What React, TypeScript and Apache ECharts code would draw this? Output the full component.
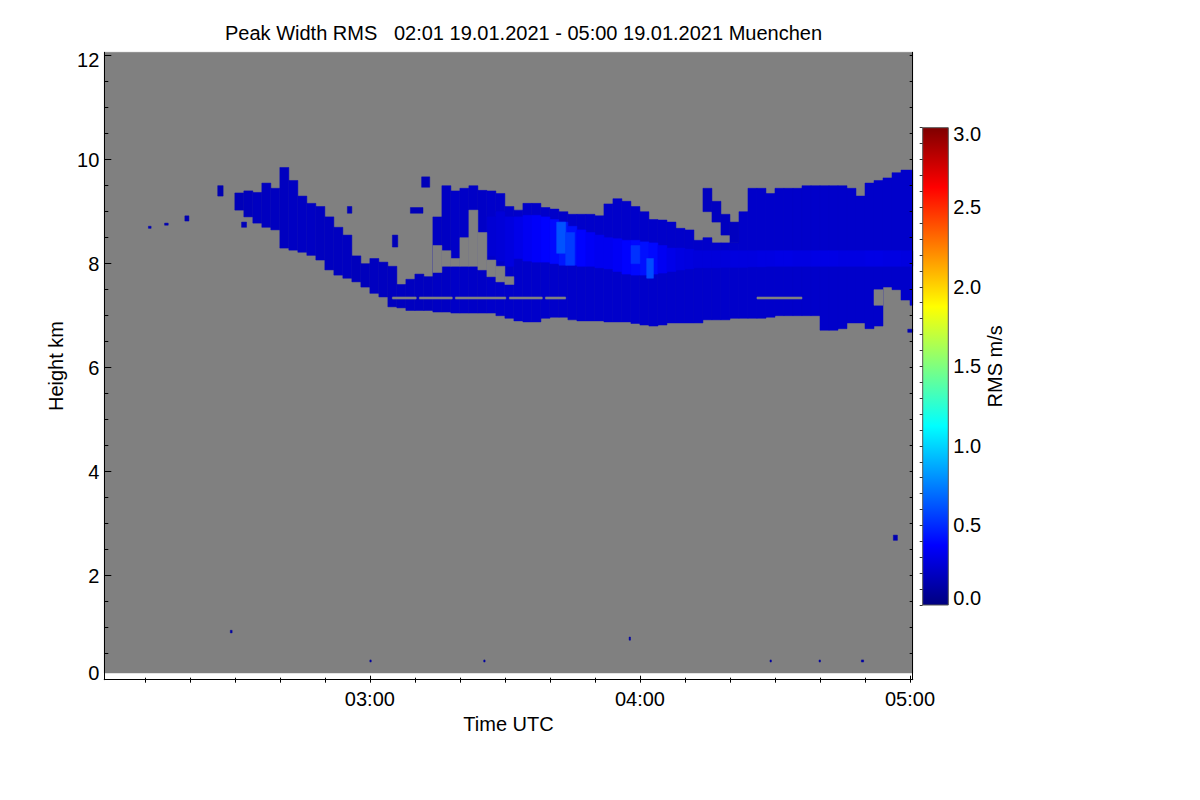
import { useEffect, useRef } from 'react';
import * as echarts from 'echarts';

const FONT = '"Liberation Sans", Arial, Helvetica, sans-serif';

const titleText = 'Peak Width RMS   02:01 19.01.2021 - 05:00 19.01.2021 Muenchen';
const xName = 'Time UTC';
const yName = 'Height km';
const cbName = 'RMS m/s';

// time axis in minutes after 02:00 UTC
const timeMin = 1; // 02:01
const timeMax = 180.6; // 05:00 (+ last profile)
const heightMin = 0;
const heightMax = 12.065;
const noDataBelowKm = 0.13;

const timeTickMinutes = [60, 120, 180];
const timeTickLabels = ['03:00', '04:00', '05:00'];
const timeMinorTicks = [10, 20, 30, 40, 50, 60, 70, 80, 90, 100, 110, 120, 130, 140, 150, 160, 170, 180];
const heightTicks = [0, 2, 4, 6, 8, 10, 12];
const heightMinorTicks = [0, 0.5, 1, 1.5, 2, 2.5, 3, 3.5, 4, 4.5, 5, 5.5, 6, 6.5, 7, 7.5, 8, 8.5, 9, 9.5, 10, 10.5, 11, 11.5, 12];
const rmsTicks = [0, 0.5, 1, 1.5, 2, 2.5, 3];
const rmsMinorTicks = [0, 0.1, 0.2, 0.3, 0.4, 0.5, 0.6, 0.7, 0.8, 0.9, 1, 1.1, 1.2, 1.3, 1.4, 1.5, 1.6, 1.7, 1.8, 1.9, 2, 2.1, 2.2, 2.3, 2.4, 2.5, 2.6, 2.7, 2.8, 2.9, 3];
const rmsMin = 0;
const rmsMax = 3;
const jetColors = ['#00007f', '#0000ff', '#007fff', '#00ffff', '#7fff7f', '#ffff00', '#ff7f00', '#ff0000', '#7f0000'];
const noDataColor = '#808080';

// main cloud body, 2-minute profiles
const colWidth = 2;
const colStart = [30, 32, 34, 36, 38, 40, 42, 44, 46, 48, 50, 52, 54, 56, 58, 60, 62, 64, 66, 68, 70, 72, 74, 76, 78, 80, 82, 84, 86, 88, 90, 92, 94, 96, 98, 100, 102, 104, 106, 108, 110, 112, 114, 116, 118, 120, 122, 124, 126, 128, 130, 132, 134, 136, 138, 140, 142, 144, 146, 148, 150, 152, 154, 156, 158, 160, 162, 164, 166, 168, 170, 172, 174, 176, 178, 180];
const bodyBase = [9.03, 8.9, 8.78, 8.7, 8.65, 8.3, 8.26, 8.22, 8.16, 8.07, 7.88, 7.78, 7.72, 7.65, 7.55, 7.43, 7.36, 7.17, 7.15, 7.1, 7.1, 7.1, 7.07, 7.07, 7.05, 7.05, 7.05, 7.05, 7.05, 7.0, 6.95, 6.9, 6.88, 6.88, 6.95, 6.97, 6.97, 6.92, 6.9, 6.9, 6.9, 6.88, 6.88, 6.88, 6.85, 6.82, 6.8, 6.82, 6.86, 6.86, 6.86, 6.86, 6.92, 6.92, 6.92, 6.95, 6.95, 6.95, 6.95, 6.97, 7.0, 7.0, 7.0, 7.0, 7.0, 6.72, 6.72, 6.75, 6.86, 6.86, 6.75, 6.8, 7.55, 7.5, 7.3, 7.2];
const bodyTop = [9.36, 9.4, 9.37, 9.55, 9.45, 9.85, 9.6, 9.3, 9.16, 9.1, 8.9, 8.7, 8.55, 8.15, 8.0, 8.1, 8.03, 7.95, 7.6, 7.7, 7.8, 7.75, 8.9, 9.5, 9.4, 9.45, 9.5, 9.41, 9.4, 9.35, 9.1, 9.03, 9.16, 9.16, 9.08, 9.05, 9.0, 8.95, 8.95, 8.95, 8.92, 9.15, 9.25, 9.2, 9.1, 9.0, 8.85, 8.84, 8.8, 8.68, 8.65, 8.45, 8.5, 8.4, 8.4, 8.4, 9.0, 9.45, 9.45, 9.35, 9.45, 9.45, 9.45, 9.5, 9.5, 9.5, 9.5, 9.5, 9.45, 9.3, 9.55, 9.6, 9.65, 9.75, 9.8, 9.8];
const bodyRms = [0.17, 0.18, 0.19, 0.19, 0.19, 0.19, 0.2, 0.2, 0.2, 0.19, 0.19, 0.19, 0.19, 0.18, 0.18, 0.19, 0.19, 0.19, 0.19, 0.19, 0.19, 0.19, 0.2, 0.2, 0.21, 0.21, 0.21, 0.21, 0.22, 0.22, 0.22, 0.22, 0.22, 0.22, 0.22, 0.22, 0.22, 0.22, 0.22, 0.22, 0.22, 0.22, 0.22, 0.22, 0.22, 0.22, 0.22, 0.22, 0.22, 0.22, 0.22, 0.22, 0.22, 0.22, 0.22, 0.22, 0.22, 0.22, 0.22, 0.22, 0.22, 0.22, 0.22, 0.22, 0.22, 0.22, 0.22, 0.22, 0.22, 0.22, 0.22, 0.22, 0.22, 0.22, 0.22, 0.22];

// no-signal gaps inside the cloud
const gapStart = [74, 76, 78, 80, 82, 84, 86, 88, 90, 172];
const gapBase = [7.83, 7.95, 7.95, 7.95, 7.95, 7.88, 7.75, 7.65, 7.6, 7.2];
const gapTop = [8.35, 8.25, 8.1, 8.5, 9.03, 8.6, 8.07, 7.95, 7.75, 7.5];

// brighter core of the cloud
const coreStart = [86, 88, 90, 92, 94, 96, 98, 100, 102, 104, 106, 108, 110, 112, 114, 116, 118, 120, 122, 124, 126, 128, 130, 132, 134, 136, 138, 140, 142, 144, 146, 148, 150, 152, 154, 156, 158, 160, 162, 164, 166, 168, 170, 172, 174, 176, 178, 180];
const coreBase = [8.15, 8.05, 7.95, 8.1, 8.05, 8.03, 8.03, 8.0, 7.97, 7.97, 7.95, 7.95, 7.92, 7.9, 7.85, 7.8, 7.78, 7.78, 7.8, 7.82, 7.85, 7.88, 7.9, 7.92, 7.92, 7.92, 7.93, 7.93, 7.93, 7.94, 7.94, 7.95, 7.95, 7.95, 7.95, 7.95, 7.95, 7.95, 7.95, 7.95, 7.95, 7.95, 7.95, 7.95, 7.95, 7.95, 7.95, 7.95];
const coreTop = [8.9, 9.0, 8.9, 8.9, 8.93, 8.93, 8.9, 8.85, 8.8, 8.72, 8.65, 8.6, 8.55, 8.5, 8.48, 8.45, 8.45, 8.42, 8.4, 8.35, 8.3, 8.3, 8.28, 8.25, 8.25, 8.25, 8.25, 8.25, 8.25, 8.25, 8.25, 8.25, 8.25, 8.25, 8.25, 8.25, 8.25, 8.25, 8.25, 8.25, 8.25, 8.25, 8.25, 8.25, 8.25, 8.25, 8.25, 8.25];
const coreRms = [0.25, 0.26, 0.28, 0.31, 0.34, 0.36, 0.38, 0.4, 0.44, 0.42, 0.38, 0.35, 0.33, 0.33, 0.35, 0.38, 0.4, 0.42, 0.4, 0.34, 0.31, 0.29, 0.28, 0.27, 0.27, 0.27, 0.27, 0.28, 0.28, 0.28, 0.29, 0.29, 0.3, 0.3, 0.29, 0.29, 0.3, 0.3, 0.3, 0.29, 0.29, 0.29, 0.3, 0.3, 0.29, 0.29, 0.28, 0.28];

// bright streaks
const streakStart = [101.5, 103.5, 118, 121.5];
const streakEnd = [103.5, 105.5, 120, 123];
const streakBase = [8.2, 7.97, 8.0, 7.72];
const streakTop = [8.8, 8.6, 8.35, 8.1];
const streakRms = [0.62, 0.55, 0.52, 0.6];

// detached patches and specks
const patchStart = [10.8, 14.4, 18.9, 26.2, 31.5, 55, 65, 69, 71.5, 134, 136, 138, 140, 29, 60, 85.3, 117.6, 148.9, 159.8, 169.2, 176.3, 179.5];
const patchEnd = [11.4, 15.2, 19.8, 27.4, 32.6, 56, 66.2, 71.8, 73.3, 136, 138, 140, 142, 29.4, 60.3, 85.6, 117.9, 149.2, 160.1, 169.7, 177.2, 180.6];
const patchBase = [8.68, 8.74, 8.82, 9.3, 8.7, 8.97, 8.32, 8.97, 9.47, 9.0, 8.8, 8.55, 8.4, 0.9, 0.34, 0.34, 0.76, 0.34, 0.34, 0.34, 2.68, 6.68];
const patchTop = [8.72, 8.78, 8.92, 9.5, 8.8, 9.1, 8.55, 9.08, 9.67, 9.45, 9.2, 8.95, 8.8, 0.95, 0.38, 0.38, 0.82, 0.38, 0.38, 0.38, 2.78, 6.74];
const patchRms = [0.15, 0.15, 0.15, 0.15, 0.17, 0.17, 0.17, 0.17, 0.17, 0.19, 0.19, 0.19, 0.19, 0.1, 0.1, 0.1, 0.1, 0.1, 0.1, 0.1, 0.15, 0.15];

// thin no-data line near 7.34 km
const stripeStart = [65, 71, 79, 91, 99, 146];
const stripeEnd = [70.3, 78.3, 90.2, 98.3, 103.5, 156];
const stripeBase = 7.32;
const stripeTop = 7.36;

function rectRenderer(params: any, api: any) {
  const tl = api.coord([api.value(0), api.value(3)]);
  const br = api.coord([api.value(1), api.value(2)]);
  const cs = params.coordSys;
  const shape = echarts.graphic.clipRectByRect(
    { x: tl[0], y: tl[1], width: br[0] - tl[0], height: br[1] - tl[1] },
    { x: cs.x, y: cs.y, width: cs.width, height: cs.height }
  );
  if (!shape) return null;
  const color = api.visual('color');
  return { type: 'rect', shape, style: { fill: color, stroke: color, lineWidth: 0.5 } };
}

const txt = { fontSize: 20, color: '#000', fontFamily: FONT };

export default function App() {
  const ref = useRef<HTMLDivElement>(null);
  useEffect(() => {
    if (!ref.current) return;
    const chart = echarts.init(ref.current, null, { renderer: 'svg' });

    const bodyData = colStart.map((t, i) => [t, t + colWidth, bodyBase[i], bodyTop[i], bodyRms[i]]);
    const coreData = coreStart.map((t, i) => [t, t + colWidth, coreBase[i], coreTop[i], coreRms[i]]);
    const streakData = streakStart.map((t, i) => [t, streakEnd[i], streakBase[i], streakTop[i], streakRms[i]]);
    const patchData = patchStart.map((t, i) => [t, patchEnd[i], patchBase[i], patchTop[i], patchRms[i]]);
    const gapData = gapStart.map((t, i) => [t, t + colWidth, gapBase[i], gapTop[i], 0]);
    const stripeData = stripeStart.map((t, i) => [t, stripeEnd[i], stripeBase, stripeTop, 0]);
    const bgData = [[timeMin, timeMax, noDataBelowKm, heightMax, 0]];

    const timeFmt = (v: number) => {
      const i = timeTickMinutes.indexOf(v);
      return i >= 0 ? timeTickLabels[i] : '';
    };
    const hFmt = (v: number) => {
      if (v === heightTicks[heightTicks.length - 1]) return '{dn|' + v + '}';
      if (v === heightTicks[0]) return '{up|' + v + '}';
      return String(v);
    };
    const rFmt = (v: number) => {
      const s = v.toFixed(1);
      if (v === rmsMax) return '{dn|' + s + '}';
      if (v === rmsMin) return '{up|' + s + '}';
      return s;
    };

    const axisLine = { show: true, lineStyle: { color: '#000', width: 1 } };
    const noLine = { show: false };
    const xBase = { type: 'value', gridIndex: 0, min: timeMin, max: timeMax, splitLine: { show: false }, z: 10 };
    const yBase = { type: 'value', gridIndex: 0, min: heightMin, max: heightMax, splitLine: { show: false }, z: 10 };

    const stops = jetColors.map((c, i) => ({ offset: i / (jetColors.length - 1), color: c }));

    const option: any = {
      animation: false,
      backgroundColor: '#fff',
      textStyle: { fontFamily: FONT },
      title: {
        text: titleText,
        left: 225,
        top: 23,
        padding: 0,
        textStyle: { ...txt, fontWeight: 'normal' },
      },
      grid: [
        { left: 104.3, top: 52.3, width: 808.4, height: 627.4, show: false },
        { left: 922.7, top: 127.7, width: 25.6, height: 477.3, show: false },
      ],
      xAxis: [
        {
          ...xBase,
          position: 'bottom',
          axisLine,
          axisTick: { show: true, inside: true, length: 2, customValues: timeMinorTicks, lineStyle: { color: '#000' } },
          axisLabel: { show: true, customValues: timeTickMinutes, formatter: timeFmt, margin: 9, ...txt },
          name: xName,
          nameLocation: 'middle',
          nameGap: 28,
          nameTextStyle: txt,
        },
        {
          ...xBase,
          position: 'bottom',
          axisLine: noLine,
          axisTick: { show: true, inside: true, length: 4, customValues: timeTickMinutes, lineStyle: { color: '#000' } },
          axisLabel: { show: false },
        },
        {
          ...xBase,
          position: 'top',
          axisLine,
          axisTick: { show: true, inside: true, length: 3, customValues: timeMinorTicks, lineStyle: { color: '#000' } },
          axisLabel: { show: false },
        },
        { type: 'value', gridIndex: 1, show: false, min: 0, max: 1 },
      ],
      yAxis: [
        {
          ...yBase,
          position: 'left',
          axisLine,
          axisTick: { show: true, inside: true, length: 7, customValues: heightTicks, lineStyle: { color: '#000' } },
          axisLabel: {
            show: true,
            customValues: heightTicks,
            formatter: hFmt,
            margin: 5,
            ...txt,
            rich: {
              dn: { ...txt, padding: [9, 0, 0, 0] },
              up: { ...txt, padding: [0, 0, 13, 0] },
            },
          },
          name: yName,
          nameLocation: 'middle',
          nameRotate: 90,
          nameGap: 38,
          nameTextStyle: txt,
        },
        {
          ...yBase,
          position: 'left',
          axisLine: noLine,
          axisTick: { show: true, inside: true, length: 4, customValues: heightMinorTicks, lineStyle: { color: '#000' } },
          axisLabel: { show: false },
        },
        {
          ...yBase,
          position: 'right',
          axisLine,
          axisTick: { show: true, inside: true, length: 3, customValues: heightMinorTicks, lineStyle: { color: '#000' } },
          axisLabel: { show: false },
        },
        {
          type: 'value',
          gridIndex: 1,
          position: 'right',
          min: rmsMin,
          max: rmsMax,
          z: 10,
          splitLine: { show: false },
          axisLine: noLine,
          axisTick: { show: true, inside: true, length: 3, customValues: rmsMinorTicks, lineStyle: { color: '#333' } },
          axisLabel: {
            show: true,
            customValues: rmsTicks,
            formatter: rFmt,
            margin: 5,
            ...txt,
            rich: {
              dn: { ...txt, padding: [12, 0, 0, 0] },
              up: { ...txt, padding: [0, 0, 14, 0] },
            },
          },
          name: cbName,
          nameLocation: 'middle',
          nameRotate: 90,
          nameGap: 31,
          nameTextStyle: txt,
        },
      ],
      visualMap: {
        type: 'continuous',
        show: false,
        min: rmsMin,
        max: rmsMax,
        dimension: 4,
        seriesIndex: [1, 2, 3, 4],
        inRange: { color: jetColors },
      },
      graphic: [
        {
          type: 'rect',
          z: 1,
          shape: { x: 922.7, y: 127.7, width: 25.6, height: 477.3 },
          style: { fill: new echarts.graphic.LinearGradient(0, 1, 0, 0, stops), stroke: '#555', lineWidth: 1 },
        },
      ],
      series: [
        { type: 'custom', name: 'nodata', renderItem: rectRenderer, data: bgData, itemStyle: { color: noDataColor }, z: 1 },
        { type: 'custom', name: 'body', renderItem: rectRenderer, data: bodyData, z: 2 },
        { type: 'custom', name: 'core', renderItem: rectRenderer, data: coreData, z: 3 },
        { type: 'custom', name: 'streaks', renderItem: rectRenderer, data: streakData, z: 4 },
        { type: 'custom', name: 'patches', renderItem: rectRenderer, data: patchData, z: 4 },
        { type: 'custom', name: 'gaps', renderItem: rectRenderer, data: gapData, itemStyle: { color: noDataColor }, z: 5 },
        { type: 'custom', name: 'stripe', renderItem: rectRenderer, data: stripeData, itemStyle: { color: noDataColor }, z: 5 },
      ],
    };
    chart.setOption(option);
    return () => chart.dispose();
  }, []);
  return <div ref={ref} style={{ position: 'absolute', left: 0, top: 0, width: 1200, height: 800, background: '#fff' }} />;
}
